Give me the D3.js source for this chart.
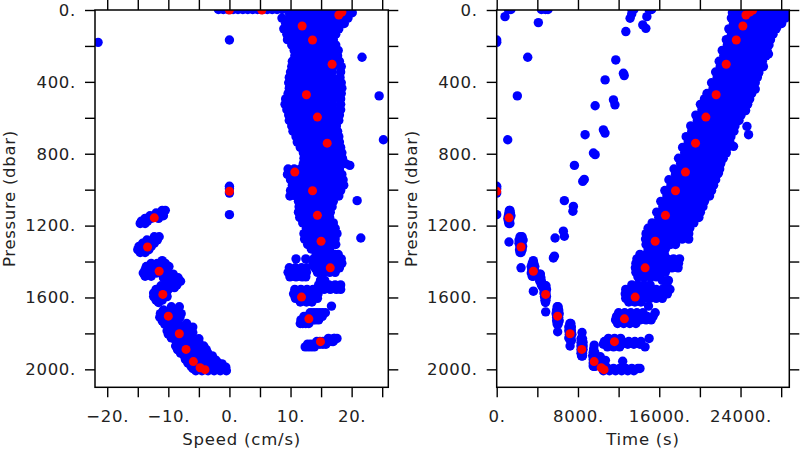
<!DOCTYPE html>
<html><head><meta charset="utf-8">
<script src="https://cdn.jsdelivr.net/npm/d3@7"></script>
<style>body{margin:0;background:#fff}svg{display:block}</style>
</head><body>
<svg id="chart" width="800" height="450"></svg>
<script>
// ---------- DATA ----------
const pressureTicks = [0,200,400,600,800,1000,1200,1400,1600,1800,2000];
const pressureLabels = [0,400,800,1200,1600,2000];
const speedTicks = [-20,-15,-10,-5,0,5,10,15,20,25];
const speedLabels = [-20,-10,0,10,20];
const timeTicks = [0,4000,8000,12000,16000,20000,24000,28000];
const timeLabels = [0,8000,16000,24000];

// rows: [pressure, [speeds...], [times...]]  (i-th speed pairs with i-th time)
const surfaceRows = [
  [-3, [-1.8,-1.0,-0.2,0.6,1.4,2.2,3.0,3.8,4.6,5.4,6.2,7.0,7.8,8.6,9.4],
       [1150,1400,4400,4800,5050,13300,13500,15000,15250,23400,24000,25600,26800,27700,28500]]
];
const ascentRows = [
  [15,[9.8,10.9,12.0,13.1,14.2,15.3,16.4,17.6,18.8,20.1],[23200,23800,24400,25000,25600,26200,26800,27400,28000,28600]],
  [45,[8.6,9.8,10.9,12.1,13.2,14.4,15.6,16.8,18.1,19.4],[23100,23700,24300,24900,25500,26100,26700,27300,27900,28400]],
  [75,[9.2,10.4,11.6,12.8,14.0,15.2,16.4,17.6,18.8],[23300,23900,24500,25100,25700,26300,26900,27500,28050]],
  [105,[8.9,10.0,11.1,12.2,13.3,14.4,15.5,16.7,17.9],[22850,23450,24050,24650,25250,25850,26450,27050,27500]],
  [135,[9.4,10.5,11.6,12.7,13.8,14.9,16.1,17.4],[23100,23700,24300,24900,25500,26100,26700,27200]],
  [165,[9.5,10.6,11.7,12.8,13.9,15.0,16.1,17.0],[22600,23200,23800,24400,25000,25600,26200,26950]],
  [195,[10.2,11.2,12.2,13.2,14.2,15.2,16.3,17.4],[22700,23300,23900,24500,25100,25700,26300,26800]],
  [225,[10.6,11.6,12.6,13.6,14.6,15.7,16.8,17.8],[22200,22800,23400,24000,24600,25200,25800,26600]],
  [255,[10.7,11.7,12.7,13.7,14.7,15.7,16.7,17.7],[22350,22950,23550,24150,24750,25350,25950,26500]],
  [285,[10.3,11.4,12.5,13.6,14.7,15.8,16.9,18.0],[21900,22500,23100,23700,24300,24900,25500,26150]],
  [315,[10.2,11.3,12.4,13.5,14.6,15.8,17.0,18.3],[22000,22600,23200,23800,24400,25000,25600,26250]],
  [345,[10.0,11.1,12.2,13.3,14.4,15.6,16.8,18.2],[21550,22150,22750,23350,23950,24550,25150,25800]],
  [375,[9.8,10.9,12.0,13.1,14.3,15.5,16.8,18.1],[21700,22300,22900,23500,24100,24700,25300,25650]],
  [405,[9.7,10.8,11.9,13.0,14.1,15.2,16.3,17.4,18.3],[21150,21750,22350,22950,23550,24150,24750,25300,25450]],
  [435,[9.8,10.9,12.0,13.1,14.2,15.3,16.4,17.5,18.4],[21300,21900,22500,23100,23700,24300,24900,25250,24600]],
  [465,[9.6,10.7,11.8,12.9,14.0,15.1,16.2,17.3,18.3],[20700,21300,21900,22500,23100,23700,24300,24900,25100]],
  [495,[9.2,10.3,11.4,12.5,13.6,14.7,15.8,17.0,18.2],[20450,21050,21650,22250,22850,23450,24050,24650,24900]],
  [525,[9.1,10.2,11.3,12.4,13.5,14.6,15.7,16.9,18.2],[20050,20650,21250,21850,22450,23050,23650,24250,24700]],
  [555,[9.4,10.5,11.6,12.7,13.8,14.9,16.0,17.1,18.2],[20200,20800,21400,22000,22600,23200,23800,24300,24450]],
  [585,[9.7,10.8,11.9,13.0,14.1,15.2,16.3,17.3,18.0],[19600,20200,20800,21400,22000,22600,23200,23800,24050]],
  [615,[9.8,10.9,12.0,13.1,14.2,15.4,16.6,17.9],[19750,20350,20950,21550,22150,22750,23350,23850]],
  [645,[10.2,11.2,12.2,13.2,14.3,15.4,16.5,17.5],[19100,19700,20300,20900,21500,22100,22700,23450]],
  [675,[10.4,11.4,12.4,13.4,14.5,15.6,16.7,17.7],[19200,19800,20400,21000,21600,22200,22800,23350]],
  [705,[10.9,11.9,12.9,13.9,14.9,15.9,16.9,17.9],[18650,19250,19850,20450,21050,21650,22250,23050]],
  [735,[11.1,12.1,13.1,14.1,15.1,16.1,17.1,18.0],[18850,19450,20050,20650,21250,21850,22450,22950]],
  [765,[11.6,12.5,13.4,14.3,15.3,16.3,17.3,18.2],[18300,18900,19500,20100,20700,21300,21900,22700]],
  [795,[12.1,13.0,13.9,14.8,15.7,16.6,17.5,18.4],[18500,19100,19700,20300,20900,21500,22100,22600]],
  [825,[12.2,13.1,14.0,14.9,15.8,16.7,17.6,18.5],[17900,18500,19100,19700,20300,20900,21500,22300]],
  [855,[12.1,13.1,14.1,15.1,16.1,17.1,18.1,19.0],[18100,18700,19300,19900,20500,21100,21700,22050]],
  [885,[9.6,10.6,11.6,12.6,13.6,14.7,15.8,16.9,18.0],[17450,18050,18650,19250,19850,20450,21050,21650,21950]],
  [915,[9.5,10.6,11.7,12.8,13.9,15.0,16.1,17.2,18.4],[17600,18200,18800,19400,20000,20600,21200,21700,20100]],
  [945,[10.0,11.1,12.2,13.3,14.4,15.5,16.6,17.7,18.6],[16950,17550,18150,18750,19350,19950,20550,21150,21550]],
  [975,[10.3,11.4,12.5,13.6,14.7,15.8,16.9,18.0,18.7],[17150,17750,18350,18950,19550,20150,20750,21350,19100]],
  [1005,[10.0,11.1,12.2,13.3,14.4,15.5,16.6,17.6,18.2],[16550,17150,17750,18350,18950,19550,20150,20750,21150]],
  [1035,[9.9,10.9,11.9,12.9,13.9,14.9,15.9,16.9,17.9],[16750,17350,17950,18550,19150,19750,20350,20950,18250]],
  [1065,[11.3,12.2,13.1,14.0,14.9,15.8,16.7,17.0],[16150,16750,17350,17950,18550,19150,19750,20450]],
  [1095,[11.4,12.3,13.2,14.1,15.0,15.9,16.8,16.2],[16350,16950,17550,18150,18750,19350,19950,20300]],
  [1125,[11.3,12.2,13.1,14.0,14.9,15.8,16.5,12.7],[15750,16350,16950,17550,18150,18750,19350,20050]],
  [1155,[11.5,12.4,13.3,14.2,15.1,16.0,16.4,13.8],[15950,16550,17150,17750,18350,18950,19550,19900]],
  [1185,[12.0,12.9,13.8,14.7,15.6,16.5,17.0,14.2],[15300,15900,16500,17100,17700,18300,18900,19400]]
];
const ascentClusterRows = [
  [1215,[12.6,13.6,14.6,15.6,16.6,17.3,13.1,14.1],[14900,15500,16100,16700,17300,17900,18500,19000]],
  [1245,[12.2,13.2,14.2,15.2,16.2,17.2,17.6,14.7],[14700,15300,15900,16500,17100,17700,18300,18900]],
  [1275,[12.3,13.3,14.3,15.3,16.3,17.3,13.8,15.8],[14650,15250,15850,16450,17050,17650,18250,18900]],
  [1305,[12.8,13.8,14.8,15.8,16.8,17.4],[14700,15300,15900,16500,17100,17600]],
  [1330,[13.4,14.4,15.4,16.4],[14900,15500,16100,16600]],
  [1360,[14.2,15.2,16.2,17.2,17.8],[14100,14700,15300,15900,16500]],
  [1385,[10.9,12.5,13.8,14.8,15.8,16.8,17.8,18.3],[13800,14400,15000,15600,16200,16800,17400,18000]],
  [1410,[13.7,14.7,15.7,16.7,17.7,18.4,15.2,16.2],[13700,14300,14900,15500,16100,16700,17300,17900]],
  [1435,[9.8,10.8,11.8,12.6,14.0,15.0,16.0,17.0,18.0],[13650,14250,14850,15450,16050,16650,17250,17850,15150]],
  [1460,[9.6,10.6,11.6,12.6,14.4,15.4,16.4,17.3],[13700,14300,14900,15500,16100,16600,14000,15800]],
  [1485,[9.9,10.9,11.9,12.5],[13900,14500,15100,15700]],
  [1505,[14.9,15.6],[16300,16900]],
  [1530,[14.6,15.3,16.3,17.3,18.2],[16750,13300,13900,14500,15100]],
  [1555,[10.7,11.7,12.7,13.7,14.6,15.5,16.5,17.5,18.2],[12700,13300,13900,14500,15100,15700,16300,16900,17050]],
  [1580,[10.5,11.5,12.5,13.5,14.5,11.0,12.0,13.0],[12650,13250,13850,14450,15050,15650,16250,16800]],
  [1605,[10.8,11.8,12.8,13.8,14.4,11.3,12.3],[12700,13300,13900,14500,15100,15700,16300]],
  [1625,[11.6,12.6,13.5],[13000,13600,14200]],
  [1648,[16.7],[14940]],
  [1685,[13.2,14.2,15.2,15.7,14.7,13.7],[12000,12600,13200,15600,13800,14400]],
  [1705,[12.2,13.2,14.2,15.2,12.7,13.7,14.7],[11800,12400,13000,13600,14200,14800,15400]],
  [1725,[11.7,12.7,13.7,14.6,12.2,13.2,14.1],[11700,12300,12900,13500,14100,14700,15200]],
  [1745,[11.6,12.5,12.0,13.0],[11900,12500,13100,13700]],
  [1828,[16.2,17.2,17.6,17.1],[11000,11600,12200,15000]],
  [1845,[14.3,15.3,16.3,17.0,14.8,15.8,16.8],[10600,11200,11800,12400,13000,13600,14200]],
  [1860,[12.8,13.8,14.8,15.8,13.3,14.3,15.3],[10500,11100,11700,12300,12900,13500,14100]],
  [1875,[12.4,13.4,12.9,13.9],[10900,11500,12100,14600]]
];
const descentRows = [
  [1115,[-11.0,-10.5],[1250,1300]],
  [1130,[-12.0,-11.0],[1200,1350]],
  [1145,[-13.0,-12.0,-10.8],[1150,1250,1400]],
  [1160,[-13.8,-12.8,-11.6],[1200,1300,1100]],
  [1175,[-14.4,-13.4],[1250,1150]],
  [1188,[-14.6,-13.8],[1200,1300]],
  [1262,[-12.3,-11.5],[2300,2500]],
  [1280,[-13.5,-12.5,-11.8],[2200,2400,2600]],
  [1298,[-14.2,-13.2,-12.3],[2300,2450,2200]],
  [1316,[-14.8,-13.8,-12.8],[2400,2300,2550]],
  [1334,[-15.0,-14.0,-13.2],[2350,2500,2250]],
  [1350,[-14.6,-13.8],[2400,2300]],
  [1395,[-11.0],[3600]],
  [1410,[-12.8,-11.8,-10.5],[3500,3650,3550]],
  [1428,[-13.6,-12.5,-11.0,-9.9],[3400,3600,3750,3550]],
  [1446,[-13.8,-12.8,-11.6,-10.4],[3500,3650,3450,3700]],
  [1464,[-14.1,-13.0,-11.9],[3550,3700,3400]],
  [1482,[-13.8,-12.8],[3600,3500]],
  [1470,[-10.4,-9.2],[4200,4300]],
  [1490,[-10.8,-9.6,-8.4],[4250,4150,4350]],
  [1510,[-10.2,-9.0,-8.0],[4300,4400,4250]],
  [1530,[-9.6,-8.6],[4500,4400]],
  [1545,[-9.0],[4550]],
  [1535,[-11.2,-10.2],[4750,4850]],
  [1555,[-12.0,-11.0,-10.0],[4800,4700,4900]],
  [1575,[-12.4,-11.4,-10.3],[4850,4750,4650]],
  [1595,[-12.4,-11.3,-10.2],[4800,4900,4700]],
  [1615,[-12.0,-11.0],[4750,4850]],
  [1628,[-11.6],[4800]],
  [1652,[-9.5,-8.2],[5950,6050]],
  [1670,[-10.8,-9.7,-8.5],[5900,6100,6000]],
  [1690,[-11.3,-10.2,-9.0,-7.9],[6000,5850,6150,6050]],
  [1710,[-11.4,-10.3,-9.2,-8.1],[6050,5950,6100,5900]],
  [1730,[-11.0,-9.9,-8.8],[6000,6150,5900]],
  [1748,[-10.6,-9.5],[6050,5950]],
  [1745,[-8.3,-7.0],[7200,7300]],
  [1765,[-9.6,-8.4,-7.2,-6.0],[7100,7250,7350,7200]],
  [1785,[-10.2,-9.0,-7.8,-6.6],[7200,7350,7100,7300]],
  [1805,[-10.0,-8.8,-7.6,-6.4],[7250,7150,7300,7400]],
  [1825,[-9.5,-8.3,-7.1],[7200,7300,7100]],
  [1840,[-8.8,-7.6],[7250,7350]],
  [1795,[-6.0],[8400]],
  [1830,[-7.5,-6.2,-5.0],[8350,8450,8300]],
  [1850,[-8.6,-7.4,-6.2,-5.0],[8400,8300,8500,8350]],
  [1870,[-8.8,-7.6,-6.4,-5.2,-4.2],[8350,8450,8300,8500,8400]],
  [1890,[-8.5,-7.3,-6.1,-4.9,-3.8],[8400,8300,8450,8350,8500]],
  [1910,[-8.0,-6.8,-5.6,-4.4],[8350,8450,8400,8300]],
  [1925,[-7.4,-6.2,-5.0],[8400,8350,8450]],
  [1865,[-5.8],[9600]],
  [1885,[-4.6],[9550]],
  [1905,[-6.5,-3.6],[9500,9650]],
  [1925,[-7.0,-5.8,-4.0,-2.8],[9600,9700,9550,9450]],
  [1945,[-7.2,-6.0,-4.8,-3.6,-2.4],[9600,9500,9650,9550,9700]],
  [1965,[-6.8,-5.6,-4.4,-3.2,-1.8],[9550,9650,9600,9700,9500]],
  [1982,[-6.3,-5.1,-3.9,-2.7,-1.5],[9600,9550,9650,9500,9700]],
  [1930,[-3.0],[10200]],
  [1950,[-2.2,-5.2],[10150,10700]],
  [1970,[-2.6,-1.2],[10250,10600]],
  [1988,[-2.0,-1.0,-0.6],[10300,10550,10800]],
  [1955,[-3.2],[12400]],
  [1995,[-6.0,-5.0,-4.0,-3.0,-2.0,-1.0,-4.5],[10900,11500,12100,12700,13300,13900,14100]],
  [2008,[-5.5,-4.5,-3.5,-2.5,-1.5,-0.5],[10500,11100,11700,12300,12900,13500]]
];
// single observations: [pressure, speed, time]
const scatterObs = [
  [180,-21.5,0],[167,0,0],[981,0,0],[995,0,0],[1019,0,0],[1139,0,0],
  [263,21.7,3054],[478,24.5,2030],[722,25.2,1084],[865,19.7,7650],[1061,20.9,6660],[1269,21.5,5745],
  [70,11,4100],[37,10,818],
  [1093,14,7547],[1120,13,7500],[954,15,8470],[943,14,8620],[694,15,8700],[796,15,9520],[805,16,9690],
  [533,14,9690],[667,14,10500],[685,15,10660],[389,14,10670],[500,13,11490],[528,15,11640],[278,14,11720],
  [352,15,12470],[365,16,12550],[120,13,12710],[46,12,13130],[22,13,13290],[83,12,14380],[102,14,14680],[37,14,14780],
  [1231,14,6560],[1259,13,6660],[1370,15,5680],[1380,16,5580],[1291,-13.5,1212],
  [1435,-12.5,2394],[1565,-11.3,3610],[1680,-10.5,4820],[1791,-8.0,6000],[1870,-6.5,7220],
  [352,15.5,25770],[231,14.5,26600],[245,13.5,26750],[93,15,27580],[648,14.5,24630],[694,15.5,24790],
  [759,15,23310],[833,16,22160],[907,16.5,21830],[440,13.5,25450],[560,14.5,24500]
];
// highlighted (red) observations: [pressure, speed, time]
const redObs = [
  [1009,0,0],[1157,-12.3,1212],[1319,-13.4,2394],[1454,-11.5,3610],[1583,-10.9,4820],[1704,-10.0,6000],
  [1802,-8.2,7220],[1889,-7.1,8370],[1957,-5.9,9590],[1991,-4.8,10280],[2002,-4.0,10570],
  [1846,14.9,11590],[1719,13.0,12570],[1598,11.8,13630],[1435,16.5,14610],[1287,15.0,15600],[1143,14.4,16610],
  [1006,13.6,17600],[902,10.7,18580],[741,16.0,19570],[596,14.4,20590],[472,12.6,21600],[302,16.8,22590],
  [167,13.6,23580],[89,11.9,24230],[28,17.9,24530],[12,18.4,24900],[0,0,25050],[0,5.3,25200]
];

// ---------- BUILD ----------
function expand(rows){
  const out=[];
  rows.forEach(([p,ss,ts])=>{const n=Math.min(ss.length,ts.length);for(let i=0;i<n;i++)out.push({p:p,s:ss[i],t:ts[i]});});
  return out;
}
const blue = [].concat(expand(surfaceRows),expand(ascentRows),expand(ascentClusterRows),expand(descentRows),
  scatterObs.map(([p,s,t])=>({p,s,t})));
const red = redObs.map(([p,s,t])=>({p,s,t}));

const svg = d3.select("#chart");
const FONT = "DejaVu Sans";
const fmt = v => (v<0?"\u2212":"") + Math.abs(v) + ".";
const Y0=10, Y1=387.3;
const R = 4.7;
const y = d3.scaleLinear().domain([0,2100]).range([Y0,Y1]);

function panel(opts){
  const {x0,x1,domain,key,ticks,labels,title,id} = opts;
  const x = d3.scaleLinear().domain(domain).range([x0,x1]);
  const g = svg.append("g");
  g.append("clipPath").attr("id",id).append("rect")
    .attr("x",x0).attr("y",Y0).attr("width",x1-x0).attr("height",Y1-Y0);
  const pts = g.append("g").attr("clip-path",`url(#${id})`);
  pts.selectAll("circle.b").data(blue).join("circle").attr("class","b")
    .attr("cx",d=>x(d[key])).attr("cy",d=>y(d.p)).attr("r",R).attr("fill","#0000ff");
  pts.selectAll("circle.r").data(red).join("circle").attr("class","r")
    .attr("cx",d=>x(d[key])).attr("cy",d=>y(d.p)).attr("r",R-0.2).attr("fill","#ff0000");

  const styleAxis = a => {
    a.select(".domain").remove();
    a.selectAll(".tick line").attr("stroke","#000").attr("stroke-width",1.4);
    a.selectAll(".tick text").attr("font-family",FONT).attr("font-size",16.5)
      .attr("fill","#222").attr("letter-spacing","0.7px");
  };
  g.append("g").attr("transform",`translate(${x0},0)`)
    .call(d3.axisLeft(y).tickValues(pressureTicks).tickSize(10).tickPadding(9)
      .tickFormat(d=>pressureLabels.includes(d)?fmt(d):"")).call(styleAxis);
  g.append("g").attr("transform",`translate(${x1},0)`)
    .call(d3.axisRight(y).tickValues(pressureTicks).tickSize(10).tickFormat("")).call(styleAxis);
  g.append("g").attr("transform",`translate(0,${Y1})`)
    .call(d3.axisBottom(x).tickValues(ticks).tickSize(10).tickPadding(13)
      .tickFormat(d=>labels.includes(d)?fmt(d):"")).call(styleAxis);
  g.append("g").attr("transform",`translate(0,${Y0})`)
    .call(d3.axisTop(x).tickValues(ticks).tickSize(10).tickFormat("")).call(styleAxis);

  g.append("rect").attr("x",x0).attr("y",Y0).attr("width",x1-x0).attr("height",Y1-Y0)
    .attr("fill","none").attr("stroke","#000").attr("stroke-width",1.5);

  g.append("text").attr("x",(x0+x1)/2).attr("y",445).attr("text-anchor","middle")
    .attr("font-family",FONT).attr("font-size",16.5).attr("fill","#222").attr("letter-spacing","0.8px")
    .text(title);
  g.append("text").attr("transform",`translate(${x0-80},${(Y0+Y1)/2}) rotate(-90)`)
    .attr("text-anchor","middle").attr("font-family",FONT).attr("font-size",16.5)
    .attr("fill","#222").attr("letter-spacing","0.7px").text("Pressure (dbar)");
}

panel({id:"clipL",x0:95,x1:388.3,domain:[-22,26],key:"s",ticks:speedTicks,labels:speedLabels,title:"Speed (cm/s)"});
panel({id:"clipR",x0:496.7,x1:789.3,domain:[0,28800],key:"t",ticks:timeTicks,labels:timeLabels,title:"Time (s)"});
</script>
</body></html>
